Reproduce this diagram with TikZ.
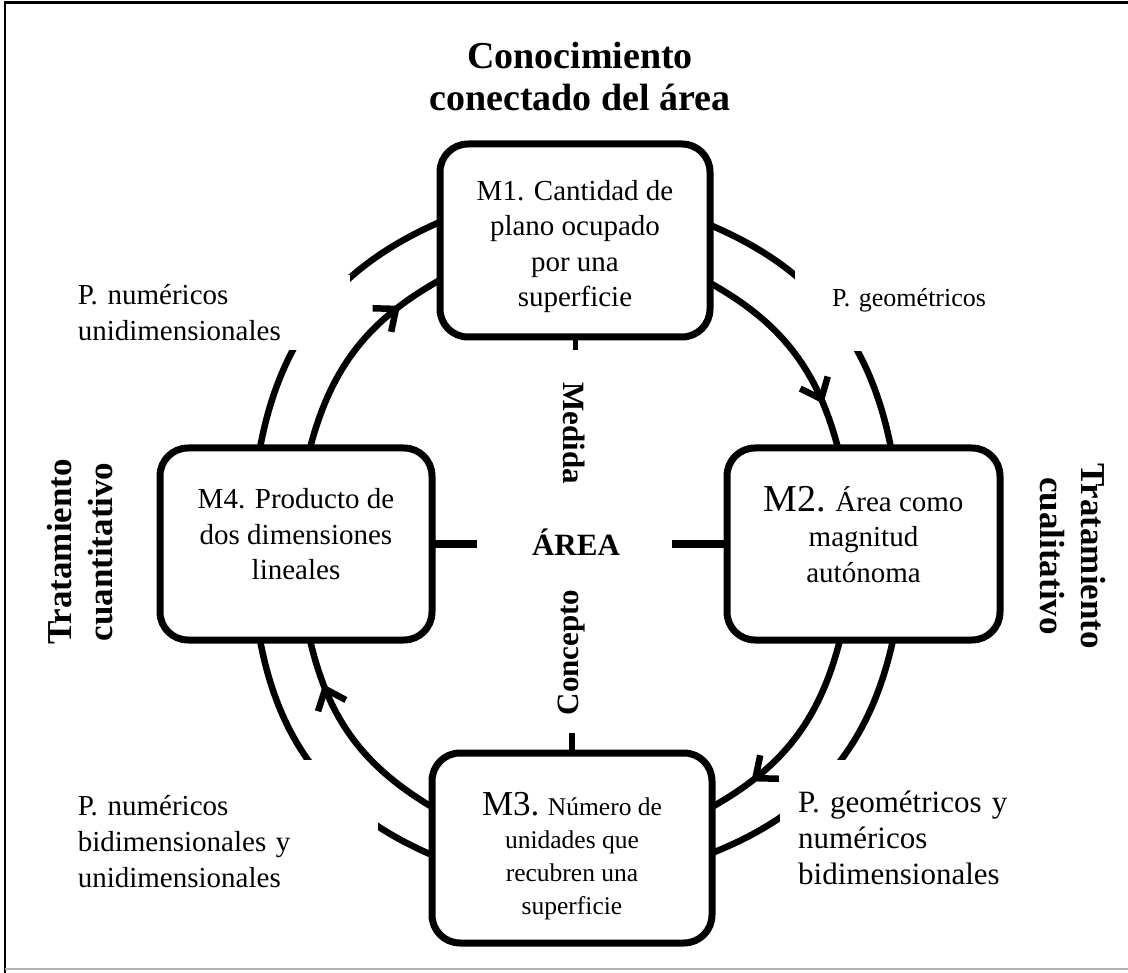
\documentclass[tikz,border=0pt]{standalone}
\usepackage{fontspec}
\setmainfont{Liberation Serif}
\usetikzlibrary{arrows.meta,decorations.markings}
\pgfdeclarelayer{outer}
\pgfdeclarelayer{labels}
\pgfdeclarelayer{inner}
\pgfsetlayers{outer,labels,inner,main}
\newcommand\txtdown[1]{\rule{0pt}{#1}}
\newcommand\txtup[1]{\rule[-#1]{0pt}{#1}}
\begin{document}
\begin{tikzpicture}[x=1pt,y=1pt,
  box/.style={draw, line width=7pt, rounded corners=28pt, fill=white, align=center,
    inner sep=0pt, outer sep=0pt, font=\fontsize{29}{35.5}\selectfont},
  arcline/.style={line width=6.5pt},
  flow/.style={line width=6.5pt, postaction={decorate},
    decoration={markings, mark=at position 0.76 with
      {\draw[line width=6.5pt, line join=miter, line cap=butt] (-18pt,15pt) -- (0pt,0pt) -- (-18pt,-15pt);}}},
  lbl/.style={fill=white, align=left, font=\fontsize{29}{36}\selectfont},
  axislbl/.style={font=\bfseries\fontsize{31}{36}\selectfont, inner sep=0pt},
  side/.style={font=\bfseries\fontsize{35}{41}\selectfont, align=center, inner sep=0pt},
  tie/.style={line width=8pt},
]
\useasboundingbox (0,0) rectangle (1128,-973);
% frame
\draw[line width=2.5pt] (5,-973) -- (5,-2.5) -- (1128,-2.5);
\draw[black!30, line width=1.5pt] (5,-969) -- (1128,-969);

% boxes
\node[box, minimum width=270pt, minimum height=193pt] (m1) at (575,-240.5)
  {\txtdown{32pt}M1. Cantidad de\\plano ocupado\\por una\\superficie};
\node[box, minimum width=273pt, minimum height=192pt] (m2) at (863.5,-544)
  {{\fontsize{38}{35.5}\selectfont M2.} Área como\\magnitud\\autónoma\txtup{20pt}};
\node[box, minimum width=280pt, minimum height=190pt, font=\fontsize{25.5}{33}\selectfont] (m3) at (572,-848)
  {\txtdown{39pt}{\fontsize{35}{33}\selectfont M3.} Número de\\unidades que\\recubren una\\superficie};
\node[box, minimum width=272pt, minimum height=192pt] (m4) at (296,-544)
  {M4. Producto de\\dos dimensiones\\lineales\txtup{20pt}};

% outer arcs
\begin{pgfonlayer}{outer}
\draw[arcline] ([xshift=100pt]m4.north west) to[bend left=28] ([yshift=-78pt]m1.north west);
\draw[arcline] ([yshift=-81pt]m1.north east) to[bend left=28] ([xshift=164pt]m2.north west);
\draw[arcline] ([xshift=166pt]m2.south west) to[bend left=28] ([yshift=-100pt]m3.north east);
\draw[arcline] ([yshift=-102pt]m3.north west) to[bend left=28] ([xshift=100pt]m4.south west);
\end{pgfonlayer}

% labels with white background
\begin{pgfonlayer}{labels}
\node[lbl, text width=262pt, inner xsep=10pt, inner ysep=9pt, anchor=south east] (l1) at (350,-350)
  {P. numéricos\\unidimensionales};
\node[lbl, font=\fontsize{26}{32}\selectfont, text width=200pt, inner xsep=37pt, inner ysep=38pt, anchor=base west] (l2) at (795,-307)
  {P. geométricos};
\node[lbl, font=\fontsize{31}{36}\selectfont, text width=240pt, inner xsep=18pt, inner ysep=31pt, anchor=north west] (l3) at (780,-760)
  {P. geométricos y\\numéricos\\bidimensionales};
\node[lbl, text width=290pt, inner xsep=10pt, inner ysep=35pt, anchor=north east] (l4) at (378,-760)
  {P. numéricos\\bidimensionales y\\unidimensionales};
\end{pgfonlayer}

% inner arcs with arrows
\begin{pgfonlayer}{inner}
\draw[flow] ([xshift=150pt]m4.north west) to[bend left=23] ([yshift=-136pt]m1.north west);
\draw[flow] ([yshift=-139pt]m1.north east) to[bend left=23] ([xshift=111pt]m2.north west);
\draw[flow] ([xshift=113pt]m2.south west) to[bend left=23] ([yshift=-54pt]m3.north east);
\draw[flow] ([yshift=-54pt]m3.north west) to[bend left=23] ([xshift=150pt]m4.south west);
\end{pgfonlayer}

% centre
\coordinate (hl) at (477,-544);
\coordinate (hr) at (672,-544);
\coordinate (t1) at (575,-350);
\coordinate (t3) at (572,-733);
\draw[tie] (m4.east) -- (hl);
\draw[tie] (hr) -- (m2.west);
\draw[line width=5pt] (m1.south) -- (t1);
\draw[line width=6pt] (t3) -- (m3.north);

\node[axislbl, anchor=base] (area) at (576,-555) {ÁREA};
\node[axislbl, rotate=-90] (med) at (574.5,-433.5) {Medida};
\node[axislbl, rotate=90] (con) at (572,-652.5) {Concepto};

% title and side texts
\node[font=\bfseries\fontsize{38}{42}\selectfont, align=center, inner sep=0pt, anchor=north] (title) at (580,-42)
  {Conocimiento\\conectado del área};
\node[side, rotate=90] (tql) at (80.5,-552) {Tratamiento\\cuantitativo};
\node[side, rotate=-90] (tqr) at (1072.5,-556) {Tratamiento\\cualitativo};
\end{tikzpicture}
\end{document}
